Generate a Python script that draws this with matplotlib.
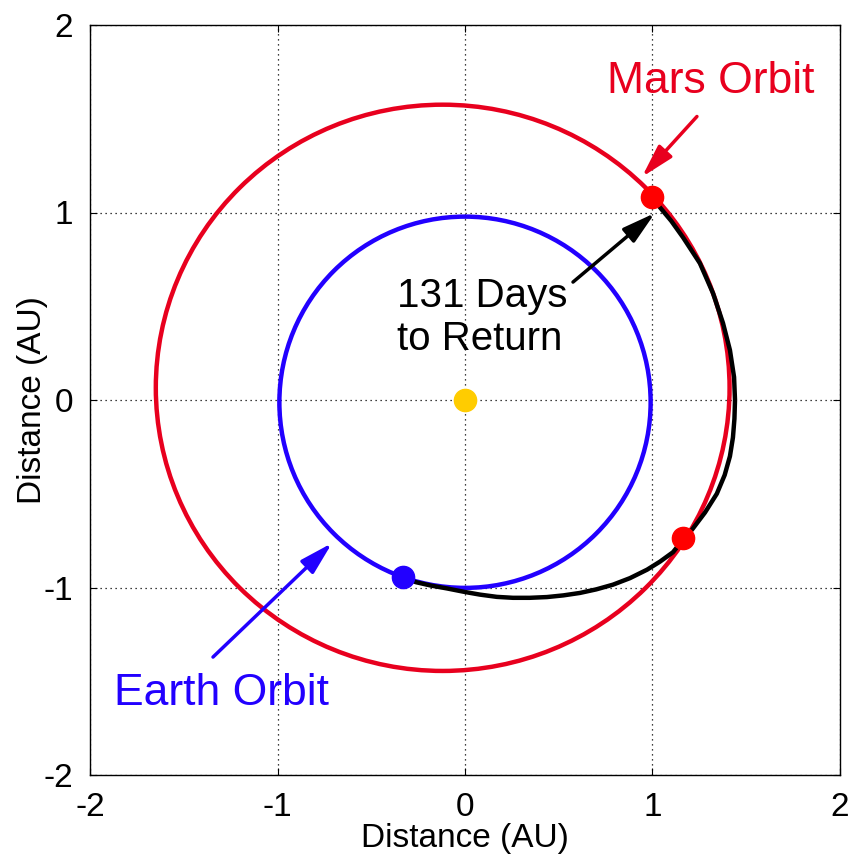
import matplotlib
matplotlib.use("Agg")
import matplotlib.pyplot as plt
from matplotlib.patches import Ellipse

plt.rcParams['font.family'] = ['Liberation Sans', 'DejaVu Sans']

# ---- data ----
earth_orbit = dict(xy=(0.0, -0.012), width=1.98, height=1.98)
mars_orbit = dict(xy=(-0.119, 0.065), width=3.06, height=3.02)

transfer_x = [-0.331, -0.260, -0.180, -0.096, 0.000, 0.080, 0.170, 0.256, 0.345,
              0.437, 0.525, 0.613, 0.700, 0.789, 0.880, 0.971, 1.040, 1.109, 1.163,
              1.212, 1.280, 1.343, 1.385, 1.413, 1.429, 1.437, 1.440, 1.435, 1.413,
              1.376, 1.323, 1.253, 1.163, 1.100, 1.040, 0.997]
transfer_y = [-0.949, -0.972, -0.990, -1.005, -1.024, -1.038, -1.050, -1.055, -1.055,
              -1.051, -1.042, -1.029, -1.010, -0.985, -0.950, -0.905, -0.862, -0.812,
              -0.745, -0.690, -0.600, -0.500, -0.400, -0.300, -0.200, -0.100, 0.000,
              0.122, 0.266, 0.410, 0.569, 0.729, 0.867, 0.955, 1.027, 1.083]

sun = (0.0, 0.0)
earth_pos = (-0.331, -0.944)
mars_depart = (1.163, -0.736)
mars_arrive = (0.997, 1.083)

ticks = [-2, -1, 0, 1, 2]
tick_labels = ['-2', '-1', '0', '1', '2']

RED = '#E8001E'
BLUE = '#2200FF'

fig = plt.figure(figsize=(8.54, 8.64), dpi=100)
ax = fig.add_axes([90 / 854, (864 - 775) / 864, 750 / 854, 750 / 864])

ax.set_xlim(-2, 2)
ax.set_ylim(-2, 2)
ax.set_xticks(ticks)
ax.set_yticks(ticks)
ax.set_xticklabels(tick_labels)
ax.set_yticklabels(tick_labels)
ax.tick_params(direction='in', length=5, width=0.8, top=True, right=True,
               labelsize=24, pad=12)
ax.grid(True, color='black', linestyle=(0, (1, 3)), linewidth=0.9)
for s in ax.spines.values():
    s.set_linewidth(1.0)

ax.add_patch(Ellipse(**mars_orbit, fill=False, edgecolor=RED, linewidth=3.2, zorder=3))
ax.add_patch(Ellipse(**earth_orbit, fill=False, edgecolor=BLUE, linewidth=3.2, zorder=3))
ax.plot(transfer_x, transfer_y, color='black', linewidth=3.2, zorder=4,
        solid_capstyle='round', solid_joinstyle='round')

ax.plot(*sun, 'o', color='#FFCC00', markersize=16, zorder=5)
ax.plot(*earth_pos, 'o', color=BLUE, markersize=16, zorder=5)
ax.plot(*mars_depart, 'o', color='#FF0000', markersize=16, zorder=5)
ax.plot(*mars_arrive, 'o', color='#FF0000', markersize=16, zorder=5)

astyle = '-|>,head_length=2.0,head_width=0.55'
ax.annotate('', xy=(0.944, 1.19), xytext=(1.237, 1.512),
            arrowprops=dict(arrowstyle=astyle, color=RED, lw=2.5,
                            shrinkA=0, shrinkB=0), zorder=6)
ax.annotate('', xy=(-0.709, -0.763), xytext=(-1.344, -1.371),
            arrowprops=dict(arrowstyle=astyle, color=BLUE, lw=2.5,
                            shrinkA=0, shrinkB=0), zorder=6)
ax.annotate('', xy=(1.013, 0.997), xytext=(0.576, 0.629),
            arrowprops=dict(arrowstyle=astyle, color='black', lw=2.5,
                            shrinkA=0, shrinkB=0), zorder=6)

ax.text(1.312, 1.70, 'Mars Orbit', color=RED, fontsize=32, ha='center', va='center')
ax.text(-1.296, -1.563, 'Earth Orbit', color=BLUE, fontsize=32, ha='center', va='center')
ax.text(-0.36, 0.44, '131 Days\nto Return', color='black', fontsize=29,
        ha='left', va='center', linespacing=1.15)

ax.set_xlabel('Distance (AU)', fontsize=24, labelpad=0)
ax.set_ylabel('Distance (AU)', fontsize=24, labelpad=-3)

fig.savefig('out.png', dpi=100)
